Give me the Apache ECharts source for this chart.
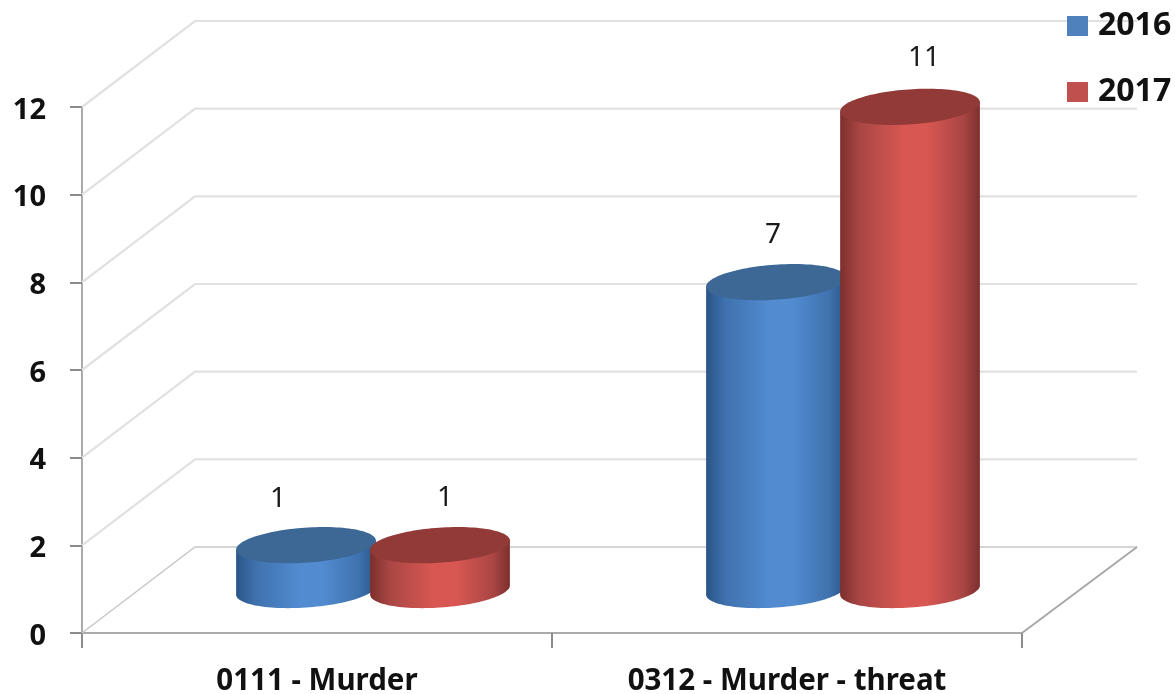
<!DOCTYPE html>
<html><head><meta charset="utf-8">
<style>html,body{margin:0;padding:0;background:#fff}#c{width:1175px;height:694px}</style>
<script src="https://cdn.jsdelivr.net/npm/echarts@6/dist/echarts.min.js"></script>
</head><body><div id="c"></div>
<script>
const categories = ['0111 - Murder', '0312 - Murder - threat'];
const seriesNames = ['2016', '2017'];
const values2016 = [1, 7];
const values2017 = [1, 11];
const yTicks = [0, 2, 4, 6, 8, 10, 12];

// styling of the pseudo-3D projection
const DEPTH_X = 113, DEPTH_Y = 86, RIGHT_EXTRA = 2;
const MID_X = 56, MID_Y = 43;
const RX_RATIO = 0.149, RY = 17.5, TILT = -4 * Math.PI / 180, SIDE_RATIO = 0.1426;
const labelNudge2016 = [[-28, -46], [-3, -47]];
const labelNudge2017 = [[5, -47], [14, -49]];
const FONT = '"Noto Sans", sans-serif';
const palette = {
  '2016': {legend:'#4f81bd', top:'#3d6896', edge:'#2a5488', soft:'#3f72ae', mid:'#528bd0'},
  '2017': {legend:'#c0504d', top:'#923a37', edge:'#7c2f2d', soft:'#a94644', mid:'#d85752'}
};

function ellipsePt(cx, cy, rx, t) {
  return [cx + rx*Math.cos(t)*Math.cos(TILT) - RY*Math.sin(t)*Math.sin(TILT),
          cy + rx*Math.cos(t)*Math.sin(TILT) + RY*Math.sin(t)*Math.cos(TILT)];
}
function cylinderRenderer(name, side, nudges) {
  const c = palette[name];
  return function (params, api) {
    const idx = api.value(0), val = api.value(1);
    const top = api.coord([idx, val]), base = api.coord([idx, 0]);
    const band = api.size([1, 0])[0];
    const rx = band * RX_RATIO;
    const cx = base[0] + MID_X + side * band * SIDE_RATIO;
    const by = base[1] - MID_Y, ty = top[1] - MID_Y - 1;
    const t0 = Math.atan(-(RY/rx) * Math.tan(TILT));
    const body = [];
    for (let i = 0; i <= 60; i++) body.push(ellipsePt(cx, by, rx, t0 + Math.PI*i/60));
    body.push(ellipsePt(cx, ty, rx, t0 + Math.PI));
    body.push(ellipsePt(cx, ty, rx, t0));
    const cap = [];
    for (let i = 0; i < 120; i++) cap.push(ellipsePt(cx, ty, rx, 2*Math.PI*i/120));
    const n = nudges[idx];
    return {type:'group', children:[
      {type:'polygon', shape:{points:body}, style:{fill:{type:'linear',x:0,y:0,x2:1,y2:0,colorStops:[
        {offset:0,color:c.edge},{offset:0.14,color:c.soft},{offset:0.45,color:c.mid},{offset:0.62,color:c.mid},{offset:0.88,color:c.soft},{offset:1,color:c.edge}]}}},
      {type:'polygon', shape:{points:cap}, style:{fill:c.top}},
      {type:'text', x:cx+n[0], y:ty+n[1], style:{text:String(val), fill:'#1a1a1a', font:'400 28px '+FONT, align:'center', verticalAlign:'middle'}}
    ]};
  };
}
function wallRenderer(params, api) {
  const v = api.value(0);
  const sys = params.coordSys;
  const y = api.coord([0, v])[1];
  const l = sys.x, r = sys.x + sys.width;
  const isFloor = v === 0;
  const kids = [{type:'polyline', shape:{points:[[l,y],[l+DEPTH_X,y-DEPTH_Y],[r+DEPTH_X+RIGHT_EXTRA,y-DEPTH_Y]]},
    style:{fill:'none', stroke:isFloor?'#c8c8c8':'#e1e1e1', lineWidth:isFloor?1.5:2.2}}];
  if (isFloor) kids.push({type:'line', shape:{x1:r,y1:y,x2:r+DEPTH_X+RIGHT_EXTRA,y2:y-DEPTH_Y}, style:{stroke:'#a6a6a6', lineWidth:1.8}});
  return {type:'group', children:kids};
}
const chart = echarts.init(document.getElementById('c'), null, {renderer:'canvas'});
chart.setOption({
  animation:false,
  backgroundColor:'#fff',
  grid:{left:82, right:153, top:107, bottom:61, outerBoundsMode:'none'},
  legend:{orient:'vertical', left:1062, top:5, itemWidth:21, itemHeight:20, itemGap:34, selectedMode:false,
    icon:'rect', textStyle:{fontFamily:FONT, fontWeight:700, fontSize:32, color:'#111', padding:[0,0,0,5]},
    data:seriesNames},
  xAxis:{type:'category', data:categories,
    axisLine:{lineStyle:{color:'#ababab', width:2}},
    axisTick:{show:true, length:15, lineStyle:{color:'#8c8c8c', width:2}},
    axisLabel:{fontFamily:FONT, fontWeight:700, fontSize:29.5, color:'#111', margin:34, hideOverlap:false}, splitLine:{show:false}},
  yAxis:{type:'value', min:0, max:12, interval:2,
    axisLine:{show:true, lineStyle:{color:'#ababab', width:2}},
    axisTick:{show:true, length:12, lineStyle:{color:'#8c8c8c', width:2}},
    axisLabel:{margin:36, formatter:'{t|{value}}',
      rich:{t:{fontFamily:FONT, fontWeight:700, fontSize:29, color:'#111', padding:[7,0,0,0]}}}, splitLine:{show:false}},
  series:[
    {type:'custom', name:'walls', renderItem:wallRenderer, data:yTicks.map(v=>[v]), encode:{}, silent:true, z:1, clip:false},
    {type:'custom', name:seriesNames[0], itemStyle:{color:palette['2016'].legend}, renderItem:cylinderRenderer('2016',-1,labelNudge2016),
      data:values2016.map((v,i)=>[i,v]), z:2, clip:false},
    {type:'custom', name:seriesNames[1], itemStyle:{color:palette['2017'].legend}, renderItem:cylinderRenderer('2017',1,labelNudge2017),
      data:values2017.map((v,i)=>[i,v]), z:3, clip:false}
  ]
});
</script></body></html>
